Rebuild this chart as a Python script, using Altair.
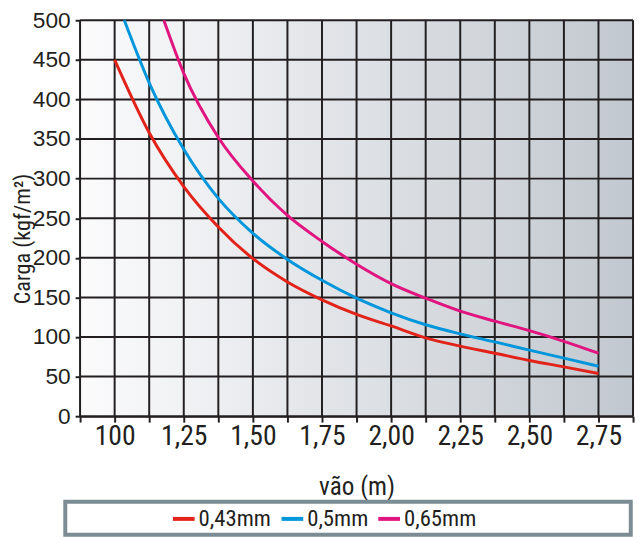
import altair as alt
import pandas as pd

# ---- data ----
series_names = ["0,43mm", "0,5mm", "0,65mm"]
series_colors = ["#e2231a", "#0096db", "#e0157f"]

red_x = [1.0, 1.125, 1.25, 1.375, 1.5, 1.625, 1.75, 1.875, 2.0, 2.125, 2.25, 2.375, 2.5, 2.625, 2.75]
red_y = [450, 358, 290, 239, 199, 169.5, 147, 128.6, 114, 99, 88.5, 79.5, 70.4, 62.3, 54]

blue_x = [1.035, 1.125, 1.25, 1.375, 1.5, 1.625, 1.75, 1.875, 2.0, 2.125, 2.25, 2.375, 2.5, 2.625, 2.75]
blue_y = [500, 421, 337, 275, 231, 198, 171.6, 149, 130.6, 115.5, 104, 93.8, 83.5, 73.3, 63]

mag_x = [1.178, 1.25, 1.375, 1.5, 1.625, 1.75, 1.875, 2.0, 2.125, 2.25, 2.375, 2.5, 2.625, 2.75]
mag_y = [500, 433, 352, 297, 253.5, 220.7, 192, 167.5, 149, 132.7, 120, 108, 94.6, 79.5]

x_grid = [0.875, 1.0, 1.125, 1.25, 1.375, 1.5, 1.625, 1.75, 1.875, 2.0, 2.125, 2.25, 2.375, 2.5, 2.625, 2.75, 2.875]
x_label_values = [1.0, 1.25, 1.5, 1.75, 2.0, 2.25, 2.5, 2.75]
x_label_texts = ["100", "1,25", "1,50", "1,75", "2,00", "2,25", "2,50", "2,75"]
y_grid = [0, 50, 100, 150, 200, 250, 300, 350, 400, 450, 500]

NARROW = "'Liberation Sans Narrow', 'Roboto Condensed', 'DejaVu Sans Condensed', sans-serif"
REG = "'Liberation Sans', Arial, sans-serif"
INK = "#231f20"
W, H = 560, 401

rows = []
for name, xs, ys in [(series_names[0], red_x, red_y), (series_names[1], blue_x, blue_y), (series_names[2], mag_x, mag_y)]:
    for xv, yv in zip(xs, ys):
        rows.append({"serie": name, "vao": xv, "carga": yv})
df = pd.DataFrame(rows)

expr = "''"
for v, t in reversed(list(zip(x_label_values, x_label_texts))):
    expr = f"datum.value == {v} ? '{t}' : ({expr})"

xscale = alt.Scale(domain=[0.875, 2.875], nice=False, zero=False)
yscale = alt.Scale(domain=[0, 500], nice=False)

xaxis = alt.Axis(values=x_grid, labelExpr=expr, grid=False, domainColor=INK, domainWidth=2,
                 tickColor=INK, tickWidth=2, tickSize=6, labelFont=NARROW, labelFontSize=28,
                 labelColor=INK, labelPadding=1, labelFlush=False, labelOverlap=False,
                 title="vão (m)", titleFont=NARROW, titleFontSize=25.5, titleFontWeight="normal",
                 titleColor=INK, titleY=71, titleBaseline="middle")
yaxis = alt.Axis(values=y_grid, grid=False, domainColor=INK, domainWidth=2,
                 tickColor=INK, tickWidth=2, tickSize=5, labelFont=REG, labelFontSize=23,
                 labelColor=INK, labelPadding=5, labelFlush=False, labelOverlap=False,
                 title="Carga (kgf/m²)", titleFont=NARROW, titleFontSize=22.5, titleFontWeight="normal",
                 titleColor=INK, titleX=-58, titleY=221, titleAngle=270, titleAlign="center",
                 titleBaseline="middle")

bg = alt.Chart(pd.DataFrame({"a": [0]})).mark_rect(
    fill=alt.Gradient(gradient="linear", x1=0, y1=0, x2=1, y2=0,
                      stops=[alt.GradientStop(color="#fbfbfc", offset=0),
                             alt.GradientStop(color="#c2c8cf", offset=1)])
).encode(x=alt.value(0), x2=alt.value(W), y=alt.value(0), y2=alt.value(H))

vrules = alt.Chart(pd.DataFrame({"vao": x_grid})).mark_rule(color=INK, strokeWidth=2).encode(
    x=alt.X("vao:Q", scale=xscale, axis=xaxis))
hrules = alt.Chart(pd.DataFrame({"carga": y_grid})).mark_rule(color=INK, strokeWidth=2).encode(
    y=alt.Y("carga:Q", scale=yscale, axis=yaxis))

legend_box = alt.Chart(pd.DataFrame({"a": [0]})).mark_rect(
    fill="white", stroke="#7b8c95", strokeWidth=4
).encode(x=alt.value(-15), x2=alt.value(557.7), y=alt.value(487.7), y2=alt.value(521))

lines = alt.Chart(df).mark_line(strokeWidth=3, interpolate="monotone").encode(
    x=alt.X("vao:Q", scale=xscale, axis=xaxis),
    y=alt.Y("carga:Q", scale=yscale, axis=yaxis),
    color=alt.Color("serie:N", scale=alt.Scale(domain=series_names, range=series_colors),
                    legend=alt.Legend(title=None, orient="none", legendX=92, legendY=492,
                                      direction="horizontal", symbolType="stroke",
                                      symbolSize=484, symbolStrokeWidth=4,
                                      labelFont=NARROW, labelFontSize=23, labelColor=INK,
                                      labelOffset=2, columnPadding=2, padding=0)),
    order=alt.Order("vao:Q"),
)

chart = alt.layer(bg, vrules, hrules, legend_box, lines).properties(
    width=W, height=H,
    autosize=alt.AutoSizeParams(type="none"),
    padding={"left": 73, "top": 9, "right": 3, "bottom": 124},
    background="white",
).configure_view(stroke=None)

chart.save("out.html", embed_options={"renderer": "svg", "actions": False})
